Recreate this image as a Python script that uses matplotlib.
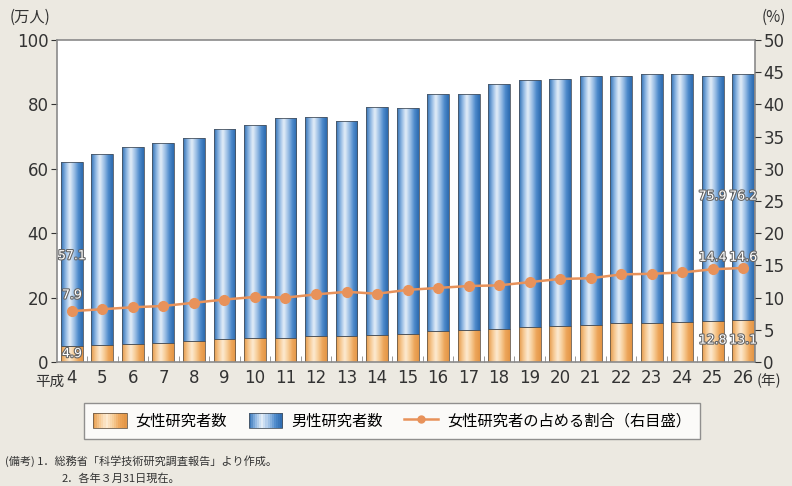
import numpy as np
import matplotlib
matplotlib.use("Agg")
import matplotlib.pyplot as plt
from matplotlib.colors import LinearSegmentedColormap
from matplotlib.patches import Patch, Rectangle
from matplotlib.lines import Line2D
from matplotlib.legend_handler import HandlerBase
import matplotlib.patheffects as pe
from matplotlib import font_manager

plt.rcParams['font.family'] = ['DejaVu Sans', 'Noto Sans CJK JP']
JP = ['Noto Sans CJK JP', 'DejaVu Sans']
names = {f.name for f in font_manager.fontManager.ttflist}
NARROW = 'Liberation Sans Narrow' if 'Liberation Sans Narrow' in names else 'DejaVu Sans'

years = ['4', '5', '6', '7', '8', '9', '10', '11', '12', '13', '14', '15', '16',
         '17', '18', '19', '20', '21', '22', '23', '24', '25', '26']
female = [4.9, 5.3, 5.7, 5.9, 6.4, 7.0, 7.4, 7.6, 8.0, 8.2, 8.4, 8.8, 9.6,
          9.8, 10.3, 10.9, 11.3, 11.6, 12.1, 12.2, 12.4, 12.8, 13.1]
male = [57.1, 59.3, 61.1, 62.1, 63.2, 65.4, 66.2, 68.2, 68.1, 66.6, 70.8, 70.2, 73.6,
        73.4, 76.0, 76.7, 76.6, 77.2, 76.7, 77.2, 77.0, 75.9, 76.2]
ratio = [7.9, 8.2, 8.5, 8.7, 9.2, 9.7, 10.1, 10.0, 10.5, 10.9, 10.6, 11.2, 11.5,
         11.8, 11.9, 12.4, 12.9, 13.0, 13.6, 13.7, 13.9, 14.4, 14.6]

BG = '#ECE9E1'
fig = plt.figure(figsize=(7.92, 4.86), dpi=100, facecolor=BG)
ax = fig.add_axes([57/792, 1-362/486, (755-57)/792, (362-40)/486])
ax.set_facecolor('white')

blue_cm = LinearSegmentedColormap.from_list('b', ['#2F6FB2', '#8DB6E2', '#E4EEF8', '#9DC0E6', '#4D8ACB', '#2C6AAE'])
orng_cm = LinearSegmentedColormap.from_list('o', ['#E49A4A', '#F6C790', '#FDEBD2', '#F7CD98', '#EDA65A', '#E39545'])

x = np.arange(len(years))
w = 0.72
fb = ax.bar(x, female, w, color='#F2B774', edgecolor='#6b5a48', linewidth=0.6, zorder=2)
mb = ax.bar(x, male, w, bottom=female, color='#4A88C8', edgecolor='#4a5460', linewidth=0.6, zorder=2)

grad = np.linspace(0, 1, 64).reshape(1, -1)
for bars, cm in ((fb, orng_cm), (mb, blue_cm)):
    for p in bars:
        x0, y0 = p.get_x(), p.get_y()
        im = ax.imshow(grad, cmap=cm, aspect='auto', interpolation='bicubic',
                       extent=(x0, x0 + p.get_width(), y0, y0 + p.get_height()), zorder=2.1)
        im.set_clip_path(p)
        p.set_zorder(2.2)
        p.set_facecolor('none')

ax.set_xlim(-0.49, len(years) - 1 + 0.39)
ax.set_ylim(0, 100)
ax.set_yticks(np.arange(0, 101, 20))
ax.set_xticks(x)
ax.set_xticklabels(years)
ax.set_xticks(x[:-1] + 0.5, minor=True)
ax.tick_params(axis='x', which='major', length=0, labelsize=12, colors='#333333', pad=5)
ax.tick_params(axis='x', which='minor', length=4, direction='in', color='#888888')
ax.tick_params(axis='y', length=4, labelsize=12, colors='#333333', pad=2)
for s in ax.spines.values():
    s.set_color('#8a8a8a')
    s.set_linewidth(1.2)

ax2 = ax.twinx()
ax2.set_ylim(0, 50)
ax2.set_yticks(np.arange(0, 51, 5))
ax2.tick_params(axis='y', length=4, labelsize=12, colors='#333333', pad=2)
ax2.plot(x, ratio, color='#E8925A', marker='o', markersize=7, linewidth=1.8, zorder=5)
for s in ax2.spines.values():
    s.set_visible(False)

# value labels
halo = [pe.withStroke(linewidth=1.6, foreground='#666666')]
def lab(xi, yv, t):
    ax.text(xi, yv, t, ha='center', va='center', fontsize=9, family=NARROW, color='white',
            path_effects=halo, zorder=6)
lab(0, 33, f'{male[0]}')
lab(0, 20.8, f'{ratio[0]}')
lab(0, 2.6, f'{female[0]}')
lab(21, 51.5, f'{male[21]}')
lab(22, 51.5, f'{male[22]}')
lab(21, 32.5, f'{ratio[21]}')
lab(22, 32.5, f'{ratio[22]}')
lab(21, 6.8, f'{female[21]}')
lab(22, 6.8, f'{female[22]}')

fig.text(10/792, 1-17/486, '(万人)', family=JP, fontsize=11, color='#333333', va='center')
fig.text(762/792, 1-17/486, '(%)', family=JP, fontsize=11, color='#333333', va='center')
ax.text(-0.25, -0.06, '平成', transform=ax.get_xaxis_transform(), family=JP, fontsize=10.5,
        color='#333333', ha='right', va='center')
ax.text(22.45, -0.06, '(年)', transform=ax.get_xaxis_transform(), family=JP, fontsize=10.5,
        color='#333333', ha='left', va='center')


class GradHandler(HandlerBase):
    def __init__(self, cmap, edge):
        super().__init__()
        self.cmap, self.edge = cmap, edge

    def create_artists(self, legend, orig_handle, xdescent, ydescent, width, height, fontsize, trans):
        n = 16
        arts = []
        for i in range(n):
            r = Rectangle((-xdescent + width * i / n, -ydescent), width / n + 0.3, height,
                          facecolor=self.cmap((i + 0.5) / n), edgecolor='none', transform=trans)
            arts.append(r)
        arts.append(Rectangle((-xdescent, -ydescent), width, height, facecolor='none',
                              edgecolor=self.edge, linewidth=0.6, transform=trans))
        return arts


h_f = Patch(facecolor='#F2B774')
h_m = Patch(facecolor='#4A88C8')
h_l = Line2D([], [], color='#E8925A', marker='o', markersize=5, linewidth=1.8)
leg = fig.legend([h_f, h_m, h_l], ['女性研究者数', '男性研究者数', '女性研究者の占める割合（右目盛）'],
                 handler_map={h_f: GradHandler(orng_cm, '#6b5a48'), h_m: GradHandler(blue_cm, '#4a5460')},
                 loc='center', bbox_to_anchor=(392/792, 1-421/486), ncol=3, frameon=True,
                 prop={'family': JP, 'size': 11}, handlelength=2.2, handleheight=1.1,
                 columnspacing=1.4, handletextpad=0.6, borderpad=0.6, fancybox=False)
leg.get_frame().set_edgecolor('#777777')
leg.get_frame().set_linewidth(1.0)
leg.get_frame().set_facecolor('white')

fig.text(5/792, 1-461/486, '(備考) 1．総務省「科学技術研究調査報告」より作成。', family=JP,
         fontsize=8, color='#333333', va='center')
fig.text(62/792, 1-479/486, '2．各年３月31日現在。', family=JP,
         fontsize=8, color='#333333', va='center')

fig.savefig('out.png', dpi=100, facecolor=BG)
